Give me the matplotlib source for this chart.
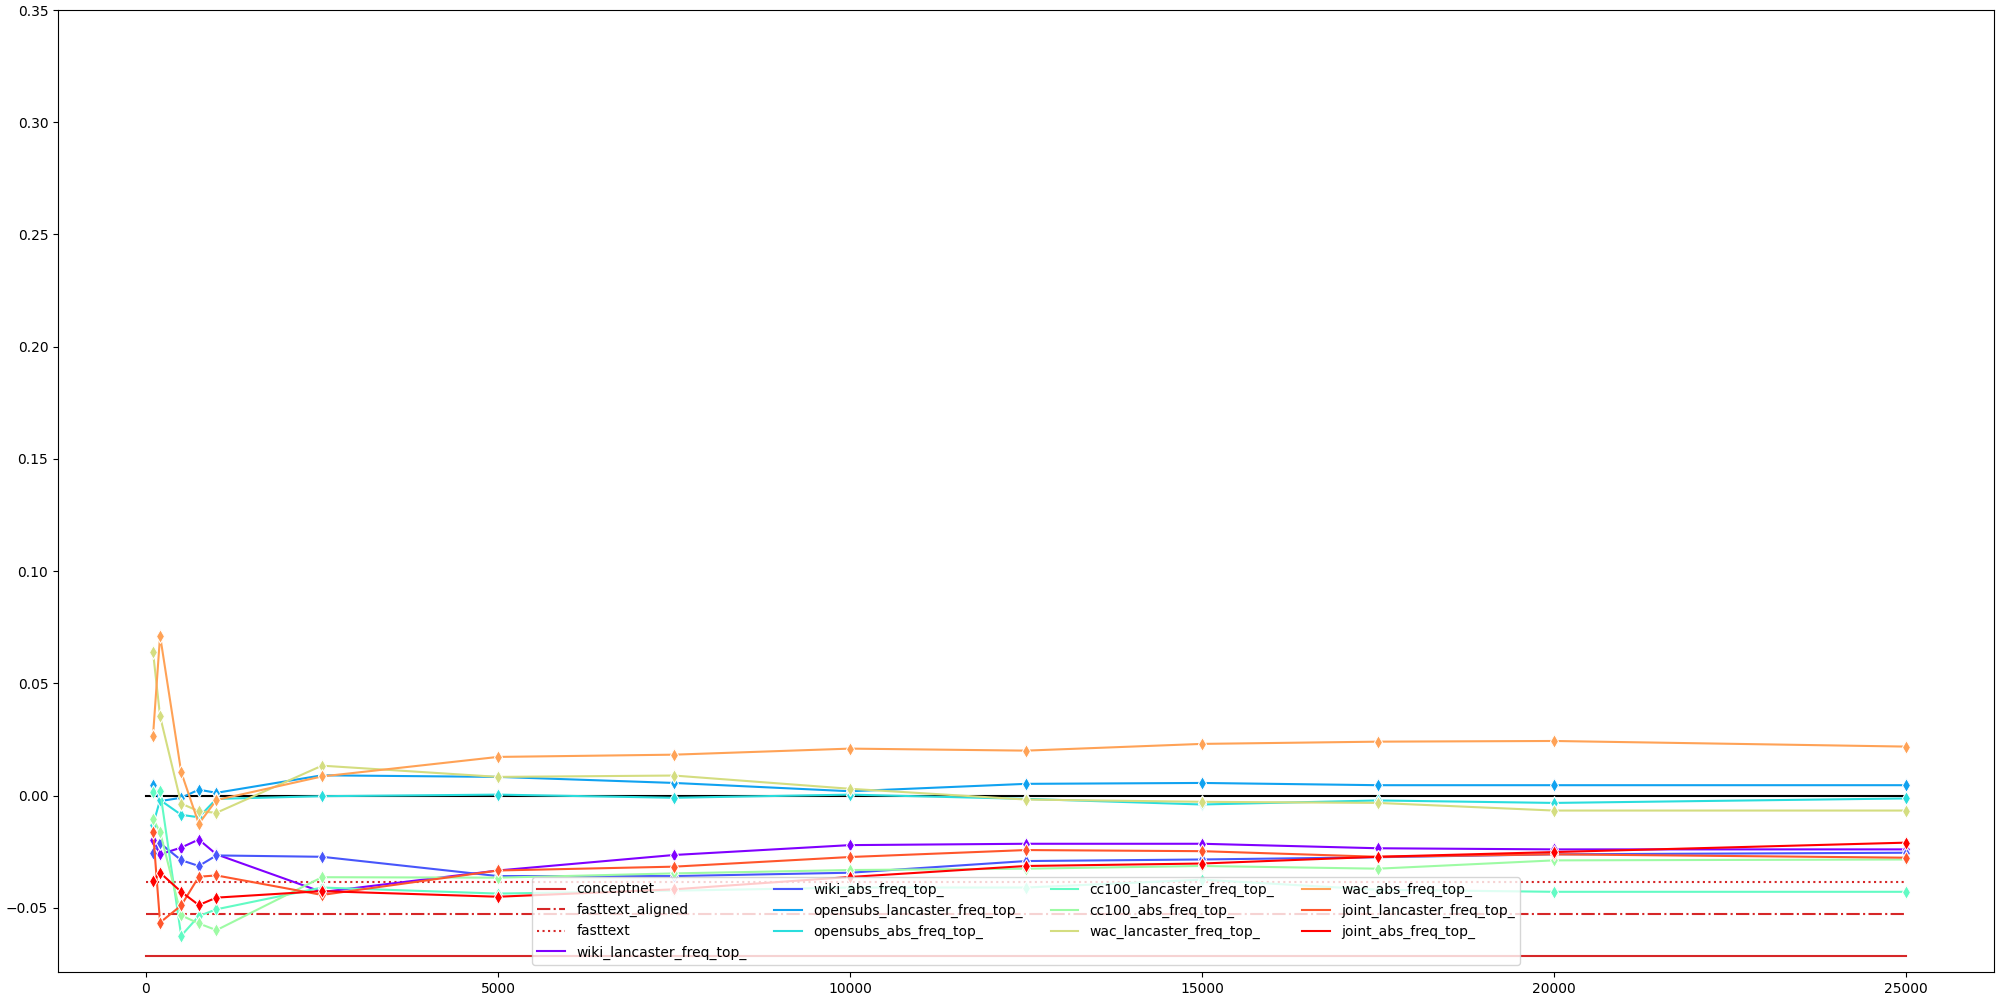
import numpy as np
import matplotlib
matplotlib.use("Agg")
import matplotlib.pyplot as plt

# x: number of top frequent words
top_n = [100, 200, 500, 750, 1000, 2500, 5000, 7500, 10000, 12500, 15000, 17500, 20000, 25000]

names = ["wiki_lancaster_freq_top_", "wiki_abs_freq_top_",
         "opensubs_lancaster_freq_top_", "opensubs_abs_freq_top_",
         "cc100_lancaster_freq_top_", "cc100_abs_freq_top_",
         "wac_lancaster_freq_top_", "wac_abs_freq_top_",
         "joint_lancaster_freq_top_", "joint_abs_freq_top_"]

wiki_lancaster = [-0.0196, -0.0262, -0.0232, -0.0196, -0.0262, -0.0430, -0.0334, -0.0265,
                  -0.0221, -0.0215, -0.0215, -0.0235, -0.0240, -0.0240]
wiki_abs = [-0.0255, -0.0213, -0.0288, -0.0314, -0.0267, -0.0273, -0.0359, -0.0359,
            -0.0344, -0.0292, -0.0285, -0.0275, -0.0262, -0.0255]
opensubs_lancaster = [0.0045, -0.0025, -0.0010, 0.0026, 0.0012, 0.0090, 0.0083, 0.0056,
                      0.0019, 0.0052, 0.0056, 0.0046, 0.0046, 0.0046]
opensubs_abs = [-0.0130, -0.0020, -0.0086, -0.0097, -0.0015, -0.0003, 0.0004, -0.0010,
                0.0004, -0.0015, -0.0040, -0.0022, -0.0033, -0.0013]
cc100_lancaster = [0.0015, 0.0020, -0.0625, -0.0537, -0.0507, -0.0410, -0.0437, -0.0424,
                   -0.0410, -0.0410, -0.0375, -0.0420, -0.0429, -0.0429]
cc100_abs = [-0.0104, -0.0163, -0.0534, -0.0570, -0.0600, -0.0364, -0.0366, -0.0347,
             -0.0332, -0.0326, -0.0314, -0.0326, -0.0289, -0.0285]
wac_lancaster = [0.0639, 0.0353, -0.0036, -0.0070, -0.0077, 0.0133, 0.0083, 0.0089,
                 0.0030, -0.0018, -0.0028, -0.0033, -0.0067, -0.0067]
wac_abs = [0.0267, 0.0712, 0.0104, -0.0126, -0.0020, 0.0085, 0.0172, 0.0182,
           0.0209, 0.0200, 0.0230, 0.0240, 0.0243, 0.0218]
joint_lancaster = [-0.0161, -0.0566, -0.0490, -0.0362, -0.0356, -0.0443, -0.0334, -0.0317,
                   -0.0274, -0.0243, -0.0248, -0.0273, -0.0262, -0.0277]
joint_abs = [-0.0381, -0.0344, -0.0429, -0.0488, -0.0455, -0.0426, -0.0451, -0.0418,
             -0.0363, -0.0314, -0.0303, -0.0273, -0.0252, -0.0210]

series = [wiki_lancaster, wiki_abs, opensubs_lancaster, opensubs_abs, cc100_lancaster,
          cc100_abs, wac_lancaster, wac_abs, joint_lancaster, joint_abs]

# baselines
conceptnet = -0.0715
fasttext_aligned = -0.0530
fasttext = -0.0384

fig = plt.figure(figsize=(20, 10), dpi=100)
ax = fig.subplots()

xmin, xmax = 0, top_n[-1]
ax.plot([xmin, xmax], [0, 0], color="black", lw=1.5)
ax.plot([xmin, xmax], [conceptnet] * 2, color="#d62728", ls="-", lw=1.5, label="conceptnet")
ax.plot([xmin, xmax], [fasttext_aligned] * 2, color="#d62728", ls="-.", lw=1.5, label="fasttext_aligned")
ax.plot([xmin, xmax], [fasttext] * 2, color="#d62728", ls=":", lw=1.5, label="fasttext")

colors = plt.cm.rainbow(np.linspace(0, 1, len(series)))
for name, vals, c in zip(names, series, colors):
    ax.plot(top_n, vals, color=c, lw=1.5, label=name)
    # markers drawn separately so the legend shows plain lines
    ax.plot(top_n, vals, color=c, lw=0, marker="d", ms=7.5, mec="white", mew=0.75)

ax.set_ylim(top=0.35)
ax.legend(loc="lower center", ncol=4)
fig.subplots_adjust(left=0.029, right=0.997, top=0.99, bottom=0.028)
plt.savefig("out.png")
